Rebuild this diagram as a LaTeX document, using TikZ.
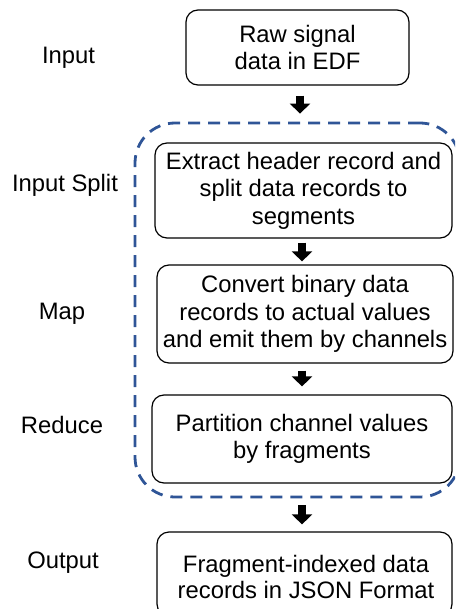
\documentclass[tikz,border=0pt]{standalone}
\usepackage{fontspec}
\setmainfont{Liberation Sans}
\usetikzlibrary{arrows.meta,calc}
\definecolor{dashblue}{RGB}{47,85,151}
\begin{document}
\begin{tikzpicture}[x=1pt,y=-1pt,
  box/.style={draw=black, line width=1.2pt, rounded corners=12pt, align=center,
    font=\fontsize{23.8}{27.5}\selectfont, inner sep=0pt},
  lbl/.style={font=\fontsize{23.8}{28}\selectfont, anchor=base, inner sep=0pt},
  blk/.style={line width=7.5pt, -{Triangle[width=20pt,length=10pt]}},
  grpbox/.style={draw=dashblue, line width=2.8pt, rounded corners=40pt,
    dash pattern=on 12pt off 8pt, inner sep=0pt}]
\useasboundingbox (0,0) rectangle (455,609);
\clip (0,0) rectangle (455,609);
% group
\node[grpbox, minimum width=325pt, minimum height=374pt] (grp) at (297.5,310) {};
% boxes
\node[box, minimum width=223pt, minimum height=75pt] (b1) at (297.5,47.5) {Raw signal\\data in EDF};
\node[box, minimum width=297pt, minimum height=95pt] (b2) at (303.5,190.5) {Extract header record and\\split data records to\\segments};
\node[box, minimum width=296pt, minimum height=98pt] (b3) at (305,314) {Convert binary data\\records to actual values\\and emit them by channels};
\node[box, minimum width=300pt, minimum height=88pt] (b4) at (302,439) {Partition channel values\\by fragments};
\node[box, minimum width=295pt, minimum height=84pt] (b5) at (304.5,574) {};
\node[font=\fontsize{23.8}{26}\selectfont, align=center, anchor=base, inner sep=0pt] (t5) at (306,598) {Fragment-indexed data\\records in JSON Format};
% labels
\node[lbl] (l1) at (68.5,64) {Input};
\node[lbl] (l2) at (65,192) {Input Split};
\node[lbl] (l3) at (62,319) {Map};
\node[lbl] (l4) at (62,433) {Reduce};
\node[lbl] (l5) at (63,568) {Output};
% arrows
\draw[blk, shorten <=10pt, shorten >=8pt] (b1.south -| 300,0) -- (grp.north -| 300,0);
\draw[blk, shorten <=4pt, shorten >=3pt] (b2.south -| 302,0) -- (b3.north -| 302,0);
\draw[blk, shorten <=7pt, shorten >=8pt] (b3.south -| 302,0) -- (b4.north -| 302,0);
\draw[blk, shorten <=7pt, shorten >=7pt] (grp.south -| 302,0) -- (b5.north -| 302,0);
\end{tikzpicture}
\end{document}
